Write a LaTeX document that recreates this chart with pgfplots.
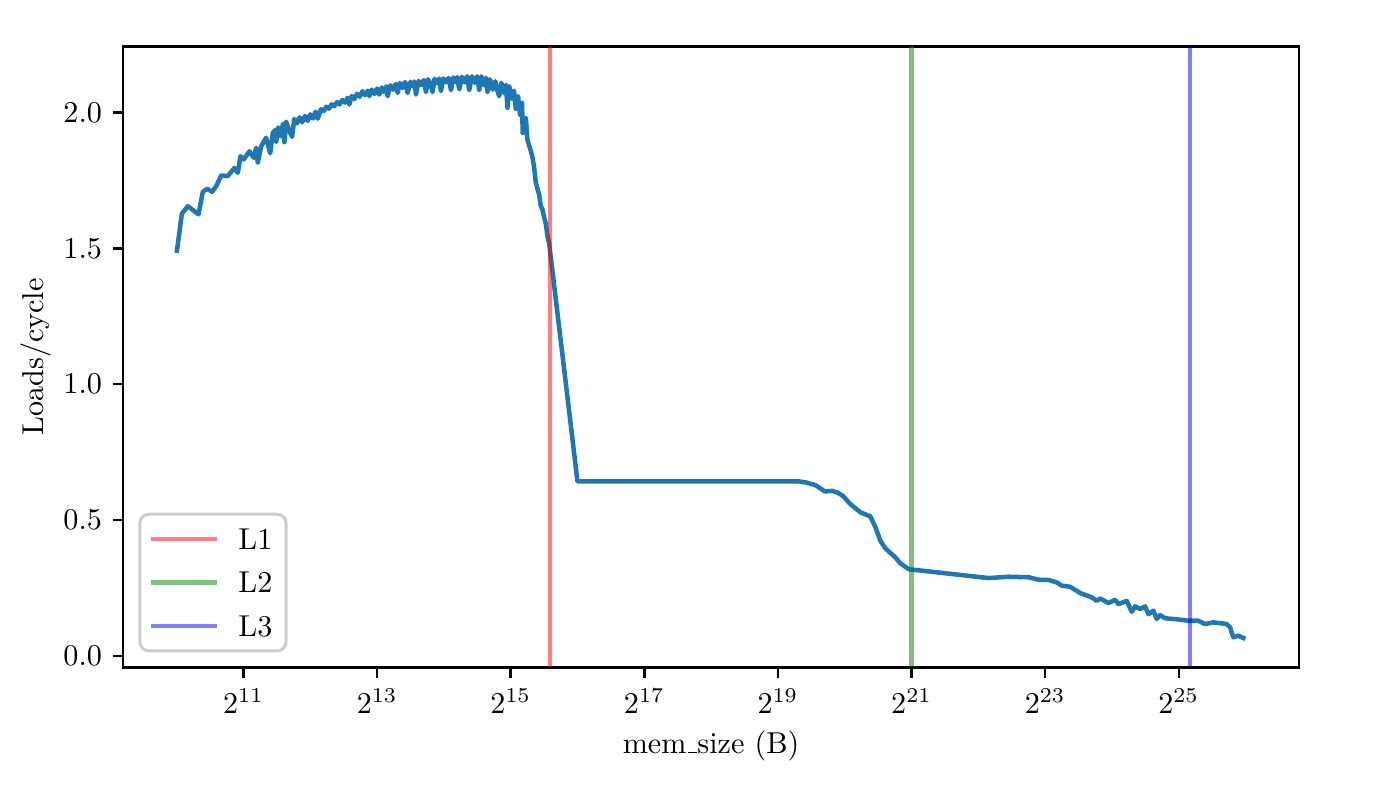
\documentclass[border=0pt]{standalone}
\usepackage{pgfplots}
\pgfplotsset{compat=1.18}
\definecolor{tabblue}{HTML}{1F77B4}
\definecolor{lred}{rgb}{1,0,0}
\definecolor{lgreen}{rgb}{0,0.5,0}
\definecolor{lblue}{rgb}{0,0,1}
\pgfplotstableread{
e v
10.000 1.483
10.077 1.627
10.167 1.655
10.327 1.625
10.391 1.708
10.457 1.719
10.532 1.708
10.592 1.729
10.667 1.768
10.765 1.766
10.865 1.796
10.915 1.778
10.955 1.839
11.004 1.827
11.090 1.857
11.154 1.833
11.190 1.870
11.214 1.815
11.265 1.876
11.339 1.907
11.400 1.850
11.440 1.925
11.470 1.935
11.490 1.891
11.520 1.945
11.560 1.912
11.590 1.958
11.613 1.891
11.640 1.966
11.680 1.935
11.728 1.910
11.760 1.976
11.800 1.960
11.840 1.982
11.880 1.964
11.920 1.987
11.960 1.969
12.000 1.993
12.040 1.978
12.080 2.003
12.111 1.977
12.160 2.012
12.200 2.005
12.240 2.021
12.280 2.014
12.320 2.030
12.360 2.023
12.400 2.038
12.440 2.030
12.480 2.046
12.520 2.036
12.560 2.054
12.585 2.029
12.620 2.061
12.660 2.049
12.700 2.069
12.740 2.058
12.780 2.078
12.820 2.064
12.860 2.080
12.884 2.060
12.920 2.084
12.960 2.068
13.000 2.088
13.033 2.066
13.070 2.092
13.100 2.076
13.140 2.096
13.158 2.060
13.200 2.100
13.240 2.084
13.280 2.105
13.307 2.072
13.340 2.109
13.380 2.090
13.420 2.112
13.457 2.072
13.500 2.113
13.540 2.096
13.560 2.114
13.582 2.066
13.620 2.116
13.660 2.101
13.700 2.119
13.732 2.075
13.760 2.122
13.800 2.106
13.830 2.075
13.860 2.124
13.900 2.108
13.930 2.125
13.956 2.079
13.990 2.125
14.030 2.111
14.070 2.127
14.106 2.082
14.140 2.129
14.180 2.112
14.200 2.130
14.230 2.085
14.270 2.131
14.310 2.111
14.350 2.133
14.379 2.082
14.420 2.133
14.460 2.109
14.500 2.133
14.529 2.082
14.560 2.133
14.600 2.100
14.630 2.128
14.653 2.075
14.690 2.122
14.730 2.084
14.770 2.115
14.800 2.080
14.828 2.060
14.860 2.109
14.900 2.072
14.930 2.102
14.952 2.017
14.980 2.096
15.020 2.050
15.050 2.080
15.077 2.012
15.110 2.060
15.140 1.990
15.170 2.035
15.180 1.925
15.200 1.960
15.227 1.980
15.250 1.900
15.276 1.878
15.300 1.860
15.326 1.835
15.350 1.800
15.376 1.742
15.400 1.720
15.426 1.698
15.450 1.656
15.475 1.643
15.500 1.615
15.526 1.590
15.550 1.546
15.575 1.520
16.000 0.642
17.000 0.642
18.000 0.642
19.000 0.642
19.313 0.642
19.420 0.638
19.563 0.628
19.702 0.605
19.811 0.607
19.900 0.600
19.971 0.589
20.086 0.558
20.236 0.528
20.385 0.513
20.460 0.473
20.535 0.423
20.610 0.395
20.759 0.362
20.834 0.340
20.958 0.319
20.983 0.318
22.154 0.286
22.453 0.291
22.752 0.289
22.902 0.280
23.051 0.279
23.175 0.270
23.250 0.258
23.376 0.254
23.525 0.231
23.699 0.215
23.774 0.202
23.824 0.211
23.948 0.194
24.049 0.206
24.098 0.190
24.222 0.202
24.297 0.162
24.348 0.182
24.423 0.172
24.497 0.182
24.547 0.153
24.621 0.166
24.671 0.135
24.721 0.150
24.796 0.138
24.946 0.135
25.145 0.129
25.294 0.129
25.394 0.117
25.519 0.123
25.718 0.117
25.768 0.105
25.818 0.068
25.892 0.074
25.942 0.068
26.000 0.063
}\loads
\begin{document}
\begin{tikzpicture}
\useasboundingbox (0,0) rectangle (6.4in,3.6in);
\begin{axis}[
  at={(0.565in,0.540in)}, anchor=south west,
  scale only axis, width=5.390in, height=2.847in,
  xmin=9.2, xmax=26.8, ymin=-0.043, ymax=2.243,
  xtick={11,13,15,17,19,21,23,25},
  xticklabels={$2^{11}$,$2^{13}$,$2^{15}$,$2^{17}$,$2^{19}$,$2^{21}$,$2^{23}$,$2^{25}$},
  ytick={0,0.5,1,1.5,2},
  yticklabels={$0.0$,$0.5$,$1.0$,$1.5$,$2.0$},
  minor tick num=0,
  tick align=outside, major tick length=3.5pt,
  xtick pos=bottom, ytick pos=left,
  tick style={black, line width=0.8pt},
  axis line style={black, line width=0.8pt},
  every axis x label/.style={at={(axis description cs:0.5,-0.138)}, anchor=base},
  every axis y label/.style={at={(axis description cs:-0.068,0.5)}, anchor=base, rotate=90},
  xlabel={mem\kern.06em\vbox{\hrule width.3em}size (B)},
  ylabel={Loads/cycle},
  legend cell align=left,
  legend style={at={(0.0128,0.0242)}, anchor=south west, draw=black!20, line width=1pt,
    rounded corners=3pt, fill=white, inner xsep=3pt, inner ysep=3.3pt,
    row sep=4.6pt, column sep=5pt,
    nodes={inner sep=1.5pt, text height=6.83pt, text depth=0pt}},
  legend image code/.code={\draw[#1, line width=1.5pt] (0pt,0pt) -- (21.7pt,0pt);},
]
\addplot[tabblue, line width=1.5pt, line join=round, forget plot] table[x=e, y=v] {\loads};
\addplot[lred, opacity=0.5, line width=1.5pt] coordinates {(15.586,-0.043) (15.586,2.243)};
\addlegendentry{L1}
\addplot[lgreen, opacity=0.5, line width=1.5pt] coordinates {(21,-0.043) (21,2.243)};
\addlegendentry{L2}
\addplot[lblue, opacity=0.5, line width=1.5pt] coordinates {(25.17,-0.043) (25.17,2.243)};
\addlegendentry{L3}
\end{axis}
\end{tikzpicture}
\end{document}
